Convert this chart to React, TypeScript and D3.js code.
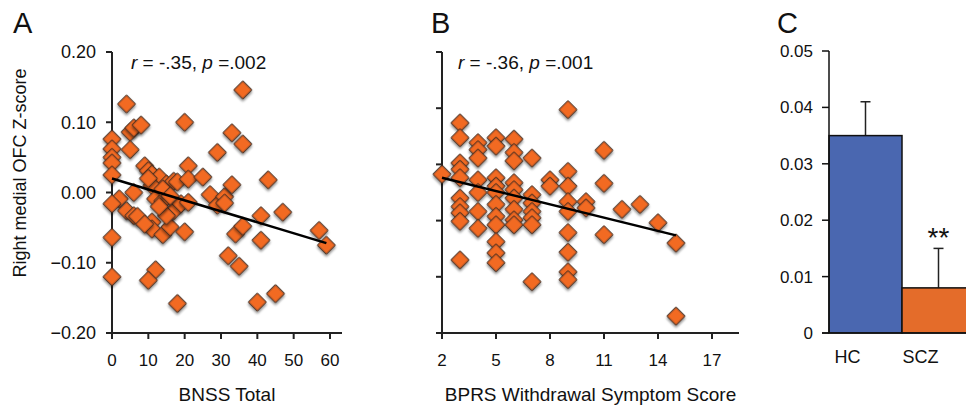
import React from 'react';
import * as d3 from 'd3';

// Panel A: BNSS total vs right medial OFC z-score
const bnssPoints: [number, number][] = [
  [4, 0.126], [5, 0.086], [6, 0.092], [8, 0.096], [20, 0.1], [0, 0.076], [0, 0.062], [0, 0.05],
  [0, 0.042], [5, 0.061], [0, 0.025], [9, 0.038], [10, 0.031], [11, 0.026], [13, 0.022], [15, 0.012],
  [11, 0.01], [17, 0.016], [18, 0.015], [21, 0.038], [21, 0.019], [25, 0.022], [29, 0.057], [2, -0.009],
  [0, -0.016], [6, 0.0], [4, -0.026], [6, -0.033], [7, -0.034], [11, -0.042], [11, -0.052], [14, -0.06],
  [16, -0.049], [17, -0.026], [15, -0.033], [12, -0.009], [14, -0.012], [20, -0.056], [19, -0.016],
  [21, -0.014], [0, -0.064], [0, -0.12], [12, -0.11], [10, -0.125], [18, -0.158], [10, 0.02], [14, 0.005],
  [27, -0.003], [29, -0.018], [31, -0.006], [33, 0.011], [31, -0.015], [36, 0.146], [33, 0.085],
  [36, 0.069], [43, 0.018], [41, -0.033], [47, -0.028], [34, -0.059], [36, -0.048], [41, -0.068],
  [32, -0.09], [35, -0.105], [40, -0.156], [45, -0.144], [57, -0.054], [59, -0.075], [13, -0.02],
  [16, -0.005], [9, -0.045],
];
const bnssFit: [number, number][] = [[0, 0.02], [59, -0.072]];
const bnssTicks = [0, 10, 20, 30, 40, 50, 60];
const zTicks = [-0.2, -0.1, 0, 0.1, 0.2];

// Panel B: BPRS withdrawal vs z-score
const bprsPoints: [number, number][] = [
  [2, 0.026], [3, 0.099], [3, 0.078], [3, 0.042], [3, 0.033], [3, 0.021], [3, -0.008], [3, -0.02],
  [3, -0.029], [3, -0.041], [3, -0.096], [4, 0.071], [4, 0.061], [4, 0.049], [4, 0.018], [4, 0.0],
  [4, -0.027], [4, -0.051], [5, 0.078], [5, 0.066], [5, 0.021], [5, 0.009], [5, 0.0], [5, -0.017],
  [5, -0.034], [5, -0.046], [5, -0.07], [5, -0.086], [5, -0.1], [6, 0.076], [6, 0.057], [6, 0.045],
  [6, 0.014], [6, 0.004], [6, -0.008], [6, -0.024], [6, -0.039], [6, -0.046], [7, 0.049], [7, -0.003],
  [7, -0.015], [7, -0.027], [7, -0.036], [7, -0.046], [7, -0.127], [8, 0.018], [8, 0.009], [9, 0.118],
  [9, 0.03], [9, 0.009], [9, -0.013], [9, -0.027], [9, -0.057], [9, -0.085], [9, -0.113], [9, -0.124],
  [10, -0.013], [10, -0.022], [11, 0.06], [11, 0.013], [11, -0.06], [12, -0.024], [13, -0.017],
  [14, -0.043], [15, -0.072], [15, -0.176],
];
const bprsFit: [number, number][] = [[2, 0.021], [15, -0.061]];
const bprsTicks = [2, 5, 8, 11, 14, 17];
const bprsYTicks = [-0.2, -0.12, -0.04, 0.04, 0.12, 0.2];

// Panel C: group means
const groups = ['HC', 'SCZ'];
const groupMeans = [0.035, 0.008];
const groupErrors = [0.006, 0.007];
const groupColors = ['#4a67b0', '#e46c2a'];
const barTicks = [0, 0.01, 0.02, 0.03, 0.04, 0.05];

const font = 'Liberation Sans, Arial, Helvetica, sans-serif';
const axisColor = '#222';
const diamondFill = '#f26a24';

const diamond = d3.symbol().type(d3.symbolSquare).size(158)();

const Scatter = ({ points, fit, x, y, xTicks, yTicks, showYLabels, stat, statX, title }) => {
  const [x0, x1] = x.range();
  const [yb, yt] = y.range();
  return (
    <g>
      <line x1={x0} x2={x0} y1={yb + 1} y2={yt} stroke={axisColor} strokeWidth={2} />
      <line x1={x0 - 1} x2={x1} y1={yb} y2={yb} stroke={axisColor} strokeWidth={2} />
      {yTicks.map((t) => (
        <g key={'y' + t}>
          <line x1={x0 - 6} x2={x0} y1={y(t)} y2={y(t)} stroke={axisColor} strokeWidth={2} />
          {showYLabels && (
            <text x={x0 - 16} y={y(t)} dy="0.35em" textAnchor="end" fontSize={18} fontFamily={font} fill="#111">
              {d3.format('.2f')(t)}
            </text>
          )}
        </g>
      ))}
      {xTicks.map((t) => (
        <g key={'x' + t}>
          <line x1={x(t)} x2={x(t)} y1={yb} y2={yb + 6} stroke={axisColor} strokeWidth={2} />
          <text x={x(t)} y={yb + 33} textAnchor="middle" fontSize={17} fontFamily={font} fill="#111">{t}</text>
        </g>
      ))}
      {points.map((p, i) => (
        <path
          key={i}
          d={diamond}
          transform={`translate(${x(p[0])},${y(p[1])}) rotate(45)`}
          fill={diamondFill}
          stroke="#3a2a20"
          strokeWidth={1}
          filter="url(#shadow)"
        />
      ))}
      <line
        x1={x(fit[0][0])} y1={y(fit[0][1])} x2={x(fit[1][0])} y2={y(fit[1][1])}
        stroke="#000" strokeWidth={2.5}
      />
      <text x={statX} y={69} fontSize={19} fontFamily={font} fill="#111">
        <tspan fontStyle="italic">r</tspan>{stat[0]}<tspan fontStyle="italic">p</tspan>{stat[1]}
      </text>
      <text x={(x0 + x1) / 2} y={401} textAnchor="middle" fontSize={19} fontFamily={font} fill="#111">{title}</text>
    </g>
  );
};

export default function App() {
  const width = 966;
  const height = 408;

  const yZ = d3.scaleLinear().domain([-0.2, 0.2]).range([333, 52]);
  const xA = d3.scaleLinear().domain([0, 63.3]).range([112, 342]);
  const xB = d3.scaleLinear().domain([2, 18.5]).range([442, 739]);

  const yC = d3.scaleLinear().domain([0, 0.05]).range([333, 51]);
  const xC = d3.scaleBand().domain(groups).range([829, 975]).padding(0);

  return (
    <svg width={width} height={height} style={{ position: 'absolute', left: 0, top: 0, background: '#fff' }}>
      <defs>
        <filter id="shadow" x="-50%" y="-50%" width="200%" height="200%">
          <feDropShadow dx={1.5} dy={1.5} stdDeviation={1} floodColor="#000" floodOpacity={0.45} />
        </filter>
      </defs>
      <rect width={width} height={height} fill="#fff" />

      <text x={13} y={33} fontSize={29} fontFamily={font} fill="#111">A</text>
      <text x={431} y={33} fontSize={29} fontFamily={font} fill="#111">B</text>
      <text x={777} y={33} fontSize={29} fontFamily={font} fill="#111">C</text>

      <text
        transform="translate(26,173) rotate(-90)"
        textAnchor="middle" fontSize={18} fontFamily={font} fill="#111"
      >
        Right medial OFC Z-score
      </text>

      <Scatter
        points={bnssPoints} fit={bnssFit} x={xA} y={yZ} xTicks={bnssTicks} yTicks={zTicks}
        showYLabels stat={[' = -.35, ', ' =.002']} statX={131} title="BNSS Total"
      />
      <Scatter
        points={bprsPoints} fit={bprsFit} x={xB} y={yZ} xTicks={bprsTicks} yTicks={bprsYTicks}
        showYLabels={false} stat={[' = -.36, ', ' =.001']} statX={458} title="BPRS Withdrawal Symptom Score"
      />

      {/* Panel C */}
      <g>
        {groups.map((g, i) => {
          const bx = xC(g);
          const cx = bx + xC.bandwidth() / 2;
          return (
            <g key={g}>
              <line x1={cx} x2={cx} y1={yC(groupMeans[i])} y2={yC(groupMeans[i] + groupErrors[i])} stroke="#222" strokeWidth={1.5} />
              <line x1={cx - 5} x2={cx + 5} y1={yC(groupMeans[i] + groupErrors[i])} y2={yC(groupMeans[i] + groupErrors[i])} stroke="#222" strokeWidth={1.5} />
              <rect
                x={bx} y={yC(groupMeans[i])} width={xC.bandwidth()} height={yC(0) - yC(groupMeans[i])}
                fill={groupColors[i]} stroke="#111" strokeWidth={1.5}
              />
              <text x={cx - 18} y={363} textAnchor="middle" fontSize={18} fontFamily={font} fill="#111">{g}</text>
            </g>
          );
        })}
        <line x1={829} x2={829} y1={yC(0)} y2={yC(0.05)} stroke="#111" strokeWidth={1.5} />
        <line x1={822} x2={966} y1={yC(0)} y2={yC(0)} stroke="#111" strokeWidth={1.5} />
        {barTicks.map((t) => (
          <g key={t}>
            <line x1={822} x2={829} y1={yC(t)} y2={yC(t)} stroke="#111" strokeWidth={1.5} />
            <text x={813} y={yC(t)} dy="0.35em" textAnchor="end" fontSize={17} fontFamily={font} fill="#111">
              {t === 0 ? '0' : d3.format('.2f')(t)}
            </text>
          </g>
        ))}
        <text x={xC('SCZ') + xC.bandwidth() / 2} y={247} textAnchor="middle" fontSize={28} fontFamily={font} fill="#111">**</text>
      </g>
    </svg>
  );
}
